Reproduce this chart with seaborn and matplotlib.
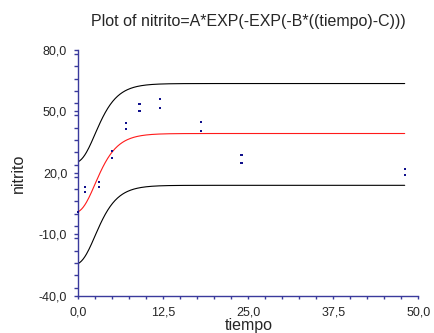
import numpy as np
import pandas as pd
import matplotlib
matplotlib.use("Agg")
import matplotlib.pyplot as plt
from matplotlib.ticker import MultipleLocator, FuncFormatter
import seaborn as sns

# observed data (replicates)
tiempo = [0, 1, 1, 3, 3, 5, 5, 7, 7, 9, 9, 12, 12, 18, 18, 24, 24, 48, 48]
nitrito = [1.0, 13.2, 10.6, 15.7, 13.2, 30.8, 27.3, 44.2, 41.3, 53.6, 50.4,
           56.1, 51.8, 44.8, 40.6, 28.9, 25.0, 21.7, 18.8]

# fitted Gompertz model parameters
A = 39.2
B = 0.53
C = 2.45
upper_offset = 24.4
lower_offset = -25.3

x_ticks = [0.0, 12.5, 25.0, 37.5, 50.0]
y_ticks = [-40.0, -10.0, 20.0, 50.0, 80.0]

sns.set_style("white")
plt.rcParams['font.family'] = ['Liberation Sans', 'DejaVu Sans']

fig = plt.figure(figsize=(4.35, 3.33), dpi=100)
ax = fig.add_axes([0.18, 0.112, 0.7816, 0.738])

xs = np.linspace(0, max(tiempo), 400)
fit = A * np.exp(-np.exp(-B * (xs - C)))
curves = pd.DataFrame({"tiempo": xs, "fit": fit,
                       "upper": fit + upper_offset, "lower": fit + lower_offset})

sns.lineplot(data=curves, x="tiempo", y="upper", ax=ax, color="black", lw=0.8)
sns.lineplot(data=curves, x="tiempo", y="lower", ax=ax, color="black", lw=0.8)
sns.lineplot(data=curves, x="tiempo", y="fit", ax=ax, color="#ff1a1a", lw=0.8)
pts = pd.DataFrame({"tiempo": tiempo, "nitrito": nitrito})
sns.scatterplot(data=pts, x="tiempo", y="nitrito", ax=ax, marker="s", s=2.2,
                color="#10108c", edgecolor="none", linewidth=0, zorder=5, clip_on=False)

ax.set_xlim(0, 50)
ax.set_ylim(-40, 80)
ax.set_xticks(x_ticks)
ax.set_yticks(y_ticks)
ax.xaxis.set_minor_locator(MultipleLocator(2.5))
ax.yaxis.set_minor_locator(MultipleLocator(6))
fmt = FuncFormatter(lambda v, p: f"{v:.1f}".replace(".", ","))
ax.xaxis.set_major_formatter(fmt)
ax.yaxis.set_major_formatter(fmt)

axis_col = "#3a3a9c"
for s in ["top", "right"]:
    ax.spines[s].set_visible(False)
for s in ["left", "bottom"]:
    ax.spines[s].set_color(axis_col)
    ax.spines[s].set_linewidth(1.0)
ax.tick_params(axis="x", which="both", direction="out", length=2.5, width=1.0,
               color=axis_col, labelsize=9, pad=5, bottom=True)
ax.tick_params(axis="y", which="both", direction="out", length=3, width=1.0,
               color=axis_col, labelsize=9, pad=5, left=True)

ax.set_xlabel("tiempo", fontsize=11.5, labelpad=0)
ax.set_ylabel("nitrito", fontsize=11.5, labelpad=9)
ax.set_title("Plot of nitrito=A*EXP(-EXP(-B*((tiempo)-C)))", fontsize=11.5, pad=17)

fig.savefig("out.png", dpi=100)
